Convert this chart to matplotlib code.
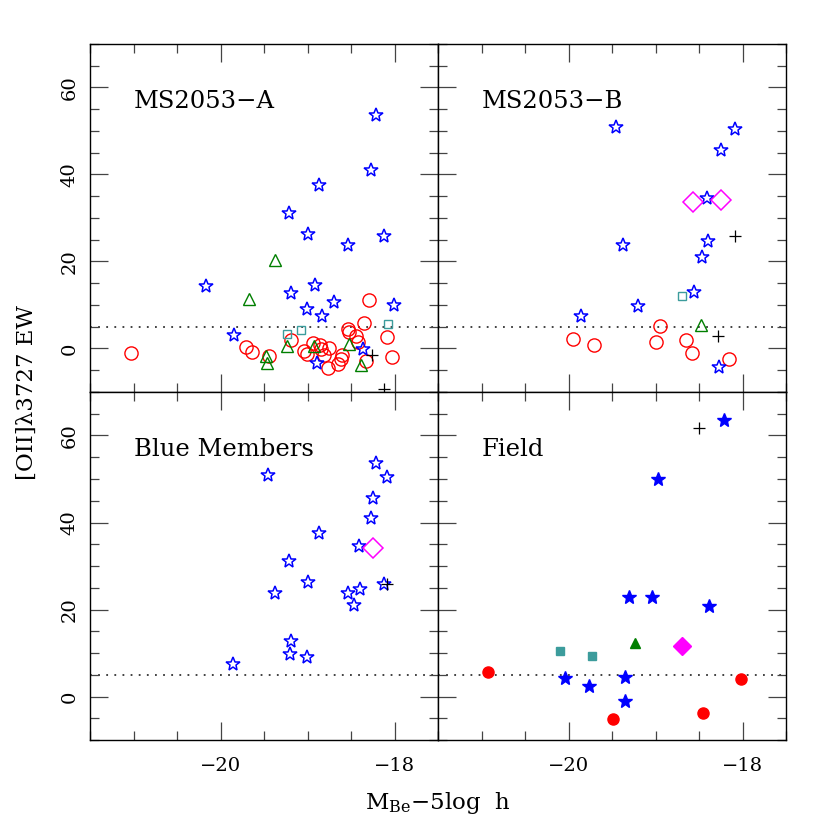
import numpy as np
import matplotlib
matplotlib.use("Agg")
import matplotlib.pyplot as plt
from matplotlib.ticker import MultipleLocator

plt.rcParams['font.family'] = 'DejaVu Serif'
plt.rcParams['mathtext.fontset'] = 'dejavuserif'

# ---- MS2053-A ----
a_star_x = [-18.21, -18.27, -18.87, -19.21, -19.00, -18.12, -18.54, -20.17, -18.91,
            -19.19, -18.70, -18.01, -19.01, -18.83, -19.84, -18.36, -18.89]
a_star_y = [53.7, 41.1, 37.6, 31.1, 26.3, 25.8, 23.9, 14.3, 14.6,
            12.7, 10.6, 10.0, 9.0, 7.4, 3.0, -0.2, -3.3]
a_tri_x = [-19.37, -19.67, -19.23, -18.93, -18.52, -19.48, -19.46, -18.39]
a_tri_y = [20.4, 11.3, 0.6, 0.6, 1.1, -1.8, -3.4, -3.8]
a_sq_x = [-19.24, -19.07, -18.08]
a_sq_y = [3.3, 4.3, 5.7]
a_plus_x = [-18.26, -18.12]
a_plus_y = [-1.4, -9.3]
a_circ_x = [-21.03, -19.71, -19.64, -19.44, -19.19, -19.04, -19.01, -18.94, -18.86,
            -18.85, -18.81, -18.75, -18.76, -18.65, -18.61, -18.60, -18.53, -18.52,
            -18.44, -18.42, -18.35, -18.29, -18.33, -18.09, -18.03]
a_circ_y = [-1.0, 0.3, -0.8, -1.8, 2.0, -0.5, -1.2, 1.2, 0.8,
            -0.1, -1.5, 0.1, -4.4, -3.6, -2.3, -1.5, 4.5, 3.8,
            2.8, 1.4, 5.8, 11.2, -2.9, 2.7, -2.0]

# ---- MS2053-B ----
b_star_x = [-19.45, -18.09, -18.25, -18.41, -19.37, -18.40, -18.47, -18.56, -19.20, -19.86, -18.27]
b_star_y = [50.9, 50.4, 45.7, 34.6, 23.7, 24.7, 21.0, 13.1, 9.7, 7.4, -4.3]
b_dia_x = [-18.57, -18.25]
b_dia_y = [33.6, 34.2]
b_sq_x = [-18.70]
b_sq_y = [12.0]
b_tri_x = [-18.48]
b_tri_y = [5.3]
b_plus_x = [-18.09, -18.28]
b_plus_y = [25.8, 2.8]
b_circ_x = [-19.95, -19.71, -18.95, -19.00, -18.65, -18.58, -18.16]
b_circ_y = [2.2, 0.8, 5.1, 1.5, 1.9, -1.0, -2.5]

# ---- Blue members ----
m_star_x = [-18.21, -18.09, -19.45, -18.25, -18.27, -18.87, -19.21, -18.41, -19.00,
            -19.37, -18.54, -18.40, -18.47, -18.12, -19.19, -19.20, -19.01, -19.86]
m_star_y = [53.6, 50.4, 50.9, 45.7, 41.0, 37.6, 31.1, 34.6, 26.3,
            23.7, 23.9, 24.7, 21.0, 25.8, 12.7, 9.7, 9.0, 7.4]
m_dia_x = [-18.25]
m_dia_y = [34.2]
m_plus_x = [-18.09]
m_plus_y = [25.8]

# ---- Field ----
f_star_x = [-18.21, -18.97, -19.30, -19.04, -18.39, -20.04, -19.77, -19.35, -19.35]
f_star_y = [63.5, 50.1, 22.8, 22.9, 20.9, 4.3, 2.5, 4.4, -1.1]
f_plus_x = [-18.50]
f_plus_y = [61.8]
f_sq_x = [-20.10, -19.73]
f_sq_y = [10.4, 9.3]
f_tri_x = [-19.23]
f_tri_y = [12.3]
f_dia_x = [-18.70]
f_dia_y = [11.5]
f_circ_x = [-20.92, -18.02, -19.49, -18.45]
f_circ_y = [5.7, 4.0, -5.1, -3.8]

BLUE = '#0000ff'
RED = '#ff0000'
GREEN = '#007f00'
TEAL = '#3c9c9c'
MAG = '#ff00ff'


def pts(ax, x, y, marker, color, ms, filled=False, mew=1.0):
    ax.plot(x, y, ls='none', marker=marker, ms=ms, mec=color,
            mfc=color if filled else 'none', mew=mew)


fig = plt.figure(figsize=(8.3, 8.3), dpi=100)
L, B, W = 90 / 830, 90 / 830, 348 / 830
ax_a = fig.add_axes([L, B + W, W, W])
ax_b = fig.add_axes([L + W, B + W, W, W])
ax_m = fig.add_axes([L, B, W, W])
ax_f = fig.add_axes([L + W, B, W, W])

for ax in (ax_a, ax_b, ax_m, ax_f):
    ax.set_xlim(-21.5, -17.5)
    ax.set_ylim(-10, 70)
    ax.xaxis.set_major_locator(MultipleLocator(2))
    ax.xaxis.set_minor_locator(MultipleLocator(0.5))
    ax.yaxis.set_major_locator(MultipleLocator(20))
    ax.yaxis.set_minor_locator(MultipleLocator(5))
    ax.tick_params(which='both', direction='in', top=True, right=True,
                   labelsize=14, color='#444444', width=0.9)
    ax.tick_params(which='major', length=13)
    ax.tick_params(which='minor', length=6.5)
    ax.tick_params(axis='x', pad=12)
    ax.tick_params(axis='y', pad=8)
    for s in ax.spines.values():
        s.set_linewidth(1.0)
    ax.axhline(5, color='#333333', lw=1.3, ls=(0, (1, 3.5)), zorder=1)
    ax.set_xticklabels([])
    ax.set_yticklabels([])

for ax in (ax_m, ax_f):
    ax.set_xticks([-20, -18])
    ax.set_xticklabels(['\u221220', '\u221218'])
for ax in (ax_a, ax_m):
    ax.set_yticks([0, 20, 40, 60])
    ax.set_yticklabels(['0', '20', '40', '60'], rotation=90, va='center')

# MS2053-A
pts(ax_a, a_circ_x, a_circ_y, 'o', RED, 9.5)
pts(ax_a, a_tri_x, a_tri_y, '^', GREEN, 8)
pts(ax_a, a_sq_x, a_sq_y, 's', TEAL, 6)
pts(ax_a, a_star_x, a_star_y, '*', BLUE, 10.5, mew=1.1)
pts(ax_a, a_plus_x, a_plus_y, '+', 'black', 9, mew=0.9)

# MS2053-B
pts(ax_b, b_circ_x, b_circ_y, 'o', RED, 9.5)
pts(ax_b, b_tri_x, b_tri_y, '^', GREEN, 8)
pts(ax_b, b_sq_x, b_sq_y, 's', TEAL, 6)
pts(ax_b, b_star_x, b_star_y, '*', BLUE, 10.5, mew=1.1)
pts(ax_b, b_dia_x, b_dia_y, 'D', MAG, 10, mew=1.1)
pts(ax_b, b_plus_x, b_plus_y, '+', 'black', 9, mew=0.9)

# Blue members
pts(ax_m, m_star_x, m_star_y, '*', BLUE, 10.5, mew=1.1)
pts(ax_m, m_dia_x, m_dia_y, 'D', MAG, 10, mew=1.1)
pts(ax_m, m_plus_x, m_plus_y, '+', 'black', 9, mew=0.9)

# Field (filled)
pts(ax_f, f_circ_x, f_circ_y, 'o', RED, 8, filled=True)
pts(ax_f, f_tri_x, f_tri_y, '^', GREEN, 7, filled=True)
pts(ax_f, f_sq_x, f_sq_y, 's', TEAL, 5.5, filled=True)
pts(ax_f, f_star_x, f_star_y, '*', BLUE, 10.5, filled=True)
pts(ax_f, f_dia_x, f_dia_y, 'D', MAG, 9, filled=True)
pts(ax_f, f_plus_x, f_plus_y, '+', 'black', 9, mew=0.9)

for ax, name in ((ax_a, 'MS2053\u2212A'), (ax_b, 'MS2053\u2212B'),
                 (ax_m, 'Blue Members'), (ax_f, 'Field')):
    ax.text(-21.0, 56.7, name, fontsize=17.5, va='center', ha='left')

fig.text(27 / 830, 1 - 392 / 830, '[OII]\u03bb3727 EW', rotation=90,
         ha='center', va='center', fontsize=16.5)
fig.text(438 / 830, 1 - 803 / 830, r'M$_{\mathrm{Be}}$$-$5log  h',
         ha='center', va='center', fontsize=16.5)

fig.savefig('out.png', dpi=100)
